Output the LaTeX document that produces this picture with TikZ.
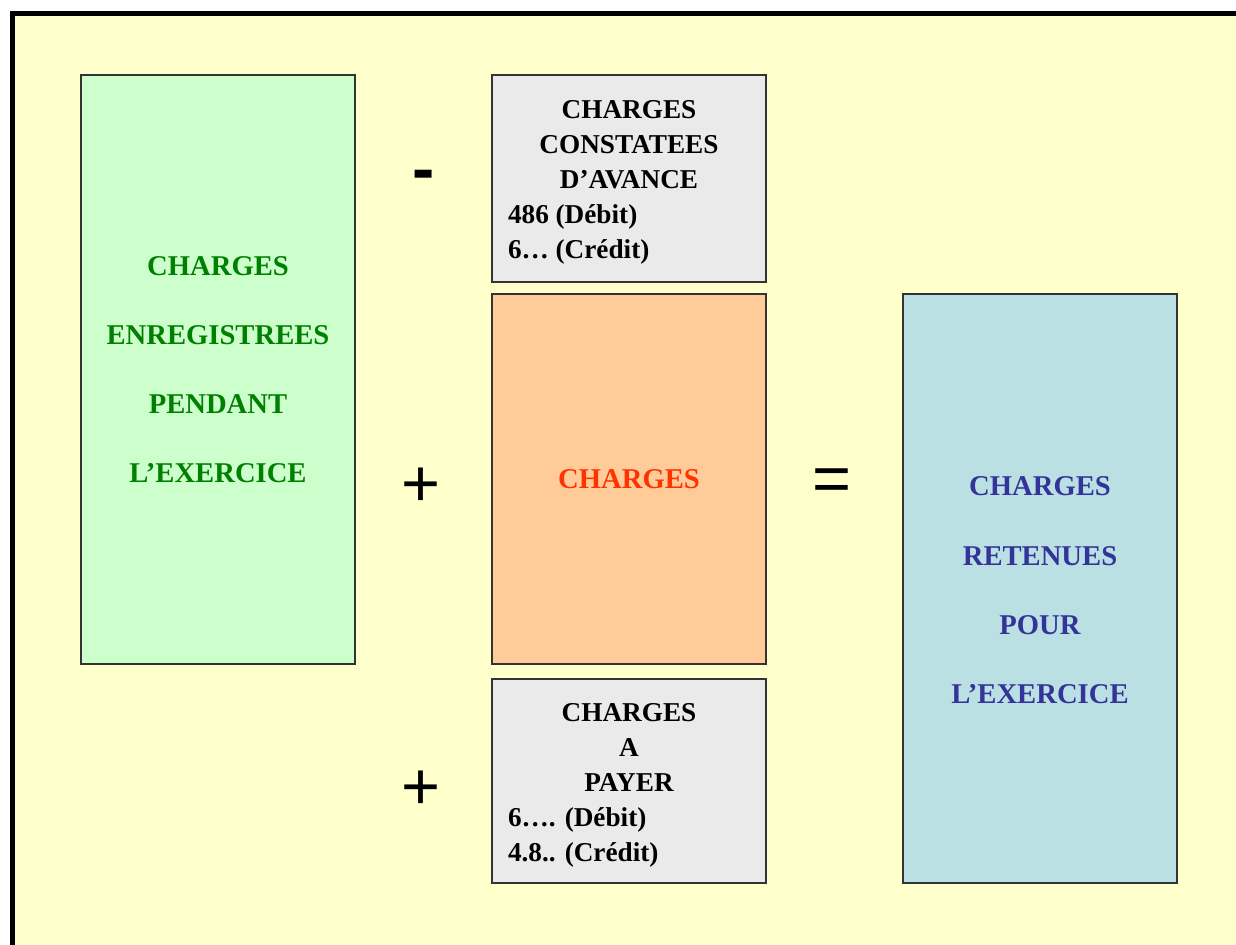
\documentclass[tikz,border=0pt]{standalone}
\usepackage{fontspec}
\setmainfont{Liberation Serif}
\newfontfamily\signfont{Liberation Sans}
\usetikzlibrary{positioning}

\definecolor{fond}{HTML}{FFFFCC}
\definecolor{vertclair}{HTML}{CCFFCC}
\definecolor{grisclair}{HTML}{EAEAEA}
\definecolor{orangeclair}{HTML}{FFCC99}
\definecolor{bleuclair}{HTML}{BBE0E3}
\definecolor{vertfonce}{HTML}{008000}
\definecolor{rougeorange}{HTML}{FF3300}
\definecolor{bleufonce}{HTML}{333399}

\newcommand{\lignec}[1]{\makebox[\hsize]{\rule{0pt}{15pt}#1}}

\tikzset{
  boite/.style={draw=black!80, line width=0.8pt, inner sep=0pt, minimum width=5.48cm},
  grand/.style={font=\fontsize{16.3}{39.4}\selectfont\bfseries, align=center},
  petit/.style={font=\fontsize{15.5}{19.9}\selectfont\bfseries, text width=4.84cm, align=flush left},
  signe/.style={font=\signfont\fontsize{38}{38}\selectfont, inner sep=0pt}
}

\begin{document}
\begin{tikzpicture}[x=0.02cm, y=-0.02cm]

  \useasboundingbox (0,0) rectangle (1236,944);
  \clip (0,0) rectangle (1236,944);
  \fill[white] (0,0) rectangle (1236,944);

  %cadre
  \draw[line width=2.3pt, fill=fond] (12.5,13.5) rectangle (1300,1000);

  %boites
  \node[boite, grand, fill=vertclair, text=vertfonce, minimum height=11.78cm] (enreg) at (218,369.5)
       {CHARGES\\ENREGISTREES\\PENDANT\\L’EXERCICE};

  \node[boite, petit, fill=grisclair, minimum height=4.14cm] (avance) at (629,178.5)
       {\lignec{CHARGES}\\\lignec{CONSTATEES}\\\lignec{D’AVANCE}\\486 (Débit)\\6… (Crédit)};

  \node[boite, grand, fill=orangeclair, text=rougeorange, minimum height=7.4cm] (charges) at (629,479)
       {CHARGES};

  \node[boite, petit, fill=grisclair, minimum height=4.08cm] (payer) at (629,781)
       {\lignec{CHARGES}\\\lignec{A}\\\lignec{PAYER}\\6…. (Débit)\\4.8.. (Crédit)};

  \node[boite, grand, fill=bleuclair, text=bleufonce, minimum height=11.78cm] (retenues) at (1040,588.5)
       {\rule{0pt}{13pt}CHARGES\\RETENUES\\POUR\\L’EXERCICE};

  %signes
  \foreach \x/\y/\sgn/\name in {424/180.5/\bfseries -/moins, 420.5/487/+/plus1, 831.5/485.5/=/egal, 420.5/790/+/plus2}{
      \node[signe] (\name) at (\x,\y) {\sgn};
  }

\end{tikzpicture}
\end{document}
